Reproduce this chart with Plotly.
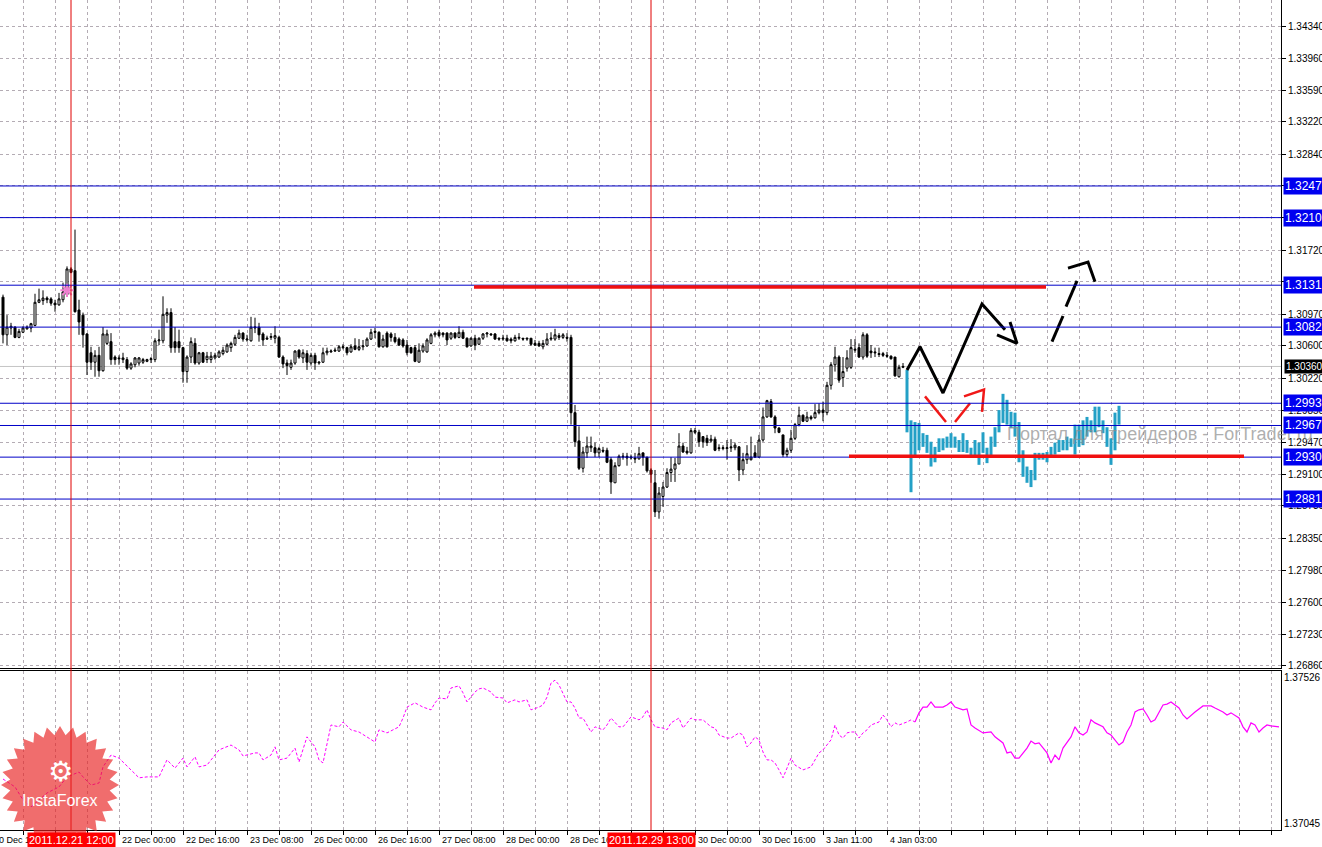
import numpy as np
import plotly.graph_objects as go

# ---------------- data (H1 candles, bar index 0 = first visible bar) ----------------
bar_open = [1.3117,1.3073,1.3081,1.3082,1.3070,1.3076,1.3080,1.3081,1.3084,1.3111,
1.3113,1.3116,1.3115,1.3110,1.3108,1.3114,1.3120,1.3150,1.3148,1.3102,
1.3096,1.3074,1.3052,1.3041,1.3049,1.3031,1.3063,1.3065,1.3047,1.3046,
1.3044,1.3044,1.3034,1.3038,1.3040,1.3041,1.3042,1.3044,1.3044,1.3066,
1.3066,1.3096,1.3099,1.3065,1.3065,1.3058,1.3030,1.3047,1.3063,1.3040,
1.3052,1.3044,1.3044,1.3046,1.3047,1.3051,1.3053,1.3058,1.3062,1.3069,
1.3075,1.3067,1.3066,1.3081,1.3082,1.3074,1.3068,1.3070,1.3069,1.3070,
1.3047,1.3040,1.3035,1.3040,1.3055,1.3046,1.3051,1.3040,1.3049,1.3040,
1.3041,1.3052,1.3053,1.3054,1.3054,1.3058,1.3058,1.3053,1.3060,1.3056,
1.3059,1.3060,1.3068,1.3077,1.3076,1.3059,1.3075,1.3074,1.3070,1.3068,
1.3067,1.3061,1.3058,1.3058,1.3041,1.3054,1.3053,1.3063,1.3073,1.3076,
1.3075,1.3075,1.3069,1.3075,1.3070,1.3076,1.3069,1.3060,1.3069,1.3062,
1.3069,1.3074,1.3074,1.3074,1.3069,1.3068,1.3069,1.3068,1.3066,1.3069,
1.3069,1.3068,1.3069,1.3063,1.3063,1.3059,1.3062,1.3068,1.3068,1.3072,
1.3070,1.3070,1.3070,1.2982,1.2949,1.2917,1.2935,1.2941,1.2941,1.2935,
1.2938,1.2938,1.2927,1.2900,1.2920,1.2930,1.2931,1.2929,1.2929,1.2928,
1.2935,1.2930,1.2915,1.2900,1.2866,1.2884,1.2895,1.2912,1.2916,1.2922,
1.2943,1.2937,1.2935,1.2959,1.2959,1.2954,1.2952,1.2949,1.2951,1.2941,
1.2940,1.2940,1.2942,1.2941,1.2942,1.2915,1.2927,1.2927,1.2935,1.2930,
1.2950,1.2977,1.2995,1.2977,1.2964,1.2956,1.2933,1.2938,1.2952,1.2968,
1.2979,1.2972,1.2977,1.2976,1.2982,1.2985,1.2982,1.3014,1.3038,1.3047,
1.3023,1.3034,1.3035,1.3055,1.3058,1.3047,1.3073,1.3054,1.3053,1.3050,
1.3051,1.3049,1.3048,1.3047,1.3024,1.3035]
bar_high = [1.3120,1.3096,1.3087,1.3083,1.3080,1.3083,1.3084,1.3087,1.3121,1.3127,
1.3125,1.3118,1.3117,1.3114,1.3122,1.3134,1.3153,1.3152,1.3196,1.3114,
1.3099,1.3075,1.3059,1.3055,1.3059,1.3082,1.3079,1.3075,1.3049,1.3049,
1.3052,1.3047,1.3041,1.3047,1.3047,1.3046,1.3045,1.3047,1.3069,1.3079,
1.3118,1.3104,1.3104,1.3082,1.3079,1.3059,1.3049,1.3070,1.3069,1.3053,
1.3053,1.3053,1.3053,1.3052,1.3055,1.3059,1.3063,1.3065,1.3073,1.3079,
1.3076,1.3073,1.3094,1.3093,1.3087,1.3076,1.3072,1.3075,1.3083,1.3072,
1.3049,1.3044,1.3044,1.3055,1.3056,1.3056,1.3055,1.3052,1.3052,1.3042,
1.3058,1.3058,1.3056,1.3058,1.3061,1.3062,1.3059,1.3062,1.3069,1.3068,
1.3067,1.3070,1.3080,1.3081,1.3077,1.3073,1.3077,1.3076,1.3075,1.3070,
1.3069,1.3067,1.3059,1.3061,1.3063,1.3063,1.3069,1.3075,1.3077,1.3079,
1.3076,1.3076,1.3076,1.3076,1.3083,1.3079,1.3070,1.3070,1.3073,1.3070,
1.3075,1.3076,1.3075,1.3075,1.3070,1.3073,1.3073,1.3070,1.3073,1.3075,
1.3069,1.3069,1.3069,1.3067,1.3066,1.3067,1.3075,1.3076,1.3080,1.3075,
1.3075,1.3075,1.3073,1.2991,1.2966,1.2942,1.2954,1.2954,1.2947,1.2942,
1.2942,1.2941,1.2930,1.2924,1.2933,1.2935,1.2935,1.2933,1.2935,1.2942,
1.2935,1.2930,1.2917,1.2915,1.2895,1.2901,1.2917,1.2930,1.2929,1.2958,
1.2947,1.2942,1.2964,1.2964,1.2962,1.2954,1.2956,1.2956,1.2954,1.2945,
1.2944,1.2950,1.2951,1.2947,1.2943,1.2935,1.2944,1.2954,1.2944,1.2956,
1.2988,1.2997,1.2998,1.2979,1.2965,1.2956,1.2941,1.2962,1.2970,1.2989,
1.2980,1.2983,1.2979,1.2992,1.2993,1.2995,1.3018,1.3041,1.3059,1.3049,
1.3047,1.3055,1.3068,1.3068,1.3063,1.3076,1.3075,1.3061,1.3058,1.3058,
1.3053,1.3053,1.3049,1.3047,1.3038,1.3040]
bar_low = [1.3063,1.3061,1.3073,1.3069,1.3069,1.3075,1.3079,1.3076,1.3083,1.3110,
1.3108,1.3110,1.3107,1.3100,1.3107,1.3111,1.3118,1.3145,1.3099,1.3073,
1.3058,1.3026,1.3032,1.3024,1.3024,1.3030,1.3061,1.3038,1.3038,1.3038,
1.3040,1.3032,1.3032,1.3035,1.3037,1.3039,1.3041,1.3040,1.3041,1.3061,
1.3063,1.3087,1.3052,1.3052,1.3052,1.3017,1.3017,1.3040,1.3038,1.3038,
1.3040,1.3040,1.3040,1.3044,1.3046,1.3049,1.3052,1.3053,1.3060,1.3068,
1.3065,1.3065,1.3065,1.3075,1.3065,1.3060,1.3067,1.3067,1.3063,1.3046,
1.3034,1.3026,1.3032,1.3038,1.3045,1.3040,1.3032,1.3037,1.3032,1.3038,
1.3040,1.3049,1.3052,1.3053,1.3053,1.3056,1.3049,1.3052,1.3055,1.3054,
1.3055,1.3059,1.3067,1.3069,1.3058,1.3058,1.3058,1.3065,1.3063,1.3060,
1.3058,1.3049,1.3051,1.3041,1.3041,1.3052,1.3052,1.3062,1.3070,1.3070,
1.3070,1.3061,1.3067,1.3068,1.3069,1.3068,1.3058,1.3059,1.3055,1.3061,
1.3067,1.3070,1.3072,1.3067,1.3066,1.3066,1.3065,1.3063,1.3065,1.3067,
1.3066,1.3066,1.3060,1.3060,1.3059,1.3056,1.3061,1.3066,1.3066,1.3067,
1.3068,1.3065,1.2968,1.2942,1.2915,1.2912,1.2929,1.2936,1.2930,1.2930,
1.2935,1.2923,1.2887,1.2900,1.2919,1.2927,1.2920,1.2927,1.2923,1.2927,
1.2920,1.2912,1.2900,1.2860,1.2858,1.2872,1.2894,1.2901,1.2901,1.2922,
1.2935,1.2933,1.2934,1.2957,1.2942,1.2941,1.2943,1.2947,1.2937,1.2937,
1.2938,1.2927,1.2936,1.2938,1.2902,1.2909,1.2922,1.2926,1.2929,1.2929,
1.2948,1.2976,1.2976,1.2958,1.2958,1.2930,1.2930,1.2935,1.2950,1.2966,
1.2971,1.2971,1.2973,1.2975,1.2980,1.2972,1.2979,1.3009,1.3030,1.3017,
1.3012,1.3030,1.3033,1.3052,1.3046,1.3044,1.3046,1.3046,1.3047,1.3047,
1.3047,1.3046,1.3044,1.3024,1.3023,1.3034]
bar_close = [1.3073,1.3082,1.3083,1.3070,1.3077,1.3081,1.3082,1.3086,1.3111,1.3114,
1.3116,1.3114,1.3110,1.3108,1.3115,1.3123,1.3150,1.3146,1.3100,1.3088,
1.3073,1.3041,1.3041,1.3049,1.3031,1.3074,1.3074,1.3044,1.3044,1.3045,
1.3046,1.3034,1.3039,1.3046,1.3046,1.3044,1.3044,1.3045,1.3066,1.3067,
1.3097,1.3099,1.3058,1.3058,1.3058,1.3030,1.3047,1.3065,1.3040,1.3052,
1.3041,1.3048,1.3048,1.3049,1.3053,1.3055,1.3061,1.3063,1.3070,1.3075,
1.3068,1.3068,1.3082,1.3082,1.3073,1.3067,1.3069,1.3071,1.3072,1.3047,
1.3039,1.3037,1.3040,1.3054,1.3047,1.3052,1.3041,1.3049,1.3040,1.3041,
1.3052,1.3054,1.3054,1.3055,1.3059,1.3059,1.3052,1.3059,1.3056,1.3059,
1.3060,1.3068,1.3076,1.3076,1.3059,1.3068,1.3059,1.3070,1.3065,1.3061,
1.3060,1.3052,1.3052,1.3042,1.3055,1.3060,1.3067,1.3073,1.3075,1.3072,
1.3073,1.3067,1.3075,1.3070,1.3076,1.3069,1.3059,1.3069,1.3061,1.3069,
1.3074,1.3075,1.3073,1.3068,1.3068,1.3069,1.3066,1.3066,1.3070,1.3070,
1.3068,1.3069,1.3062,1.3061,1.3060,1.3063,1.3068,1.3069,1.3073,1.3070,
1.3073,1.3069,1.2982,1.2948,1.2917,1.2936,1.2943,1.2943,1.2935,1.2940,
1.2937,1.2924,1.2901,1.2920,1.2931,1.2931,1.2929,1.2930,1.2928,1.2934,
1.2930,1.2914,1.2910,1.2866,1.2888,1.2895,1.2912,1.2916,1.2922,1.2943,
1.2936,1.2935,1.2961,1.2961,1.2948,1.2948,1.2947,1.2951,1.2938,1.2940,
1.2941,1.2941,1.2941,1.2944,1.2915,1.2927,1.2934,1.2930,1.2930,1.2950,
1.2977,1.2996,1.2977,1.2964,1.2959,1.2933,1.2938,1.2952,1.2968,1.2979,
1.2972,1.2977,1.2975,1.2982,1.2985,1.2982,1.3014,1.3038,1.3047,1.3020,
1.3030,1.3046,1.3058,1.3056,1.3047,1.3073,1.3048,1.3052,1.3052,1.3051,
1.3049,1.3048,1.3045,1.3025,1.3035,1.3036]
bar_idx = list(range(len(bar_open)))

# projected (cyan) high-low bars
proj_start = 226
proj_high = [1.3032,1.2973,1.2971,1.2970,1.2958,1.2956,1.2948,1.2942,1.2952,1.2952,
1.2954,1.2958,1.2954,1.2950,1.2958,1.2950,1.2941,1.2950,1.2947,1.2959,
1.2941,1.2954,1.2965,1.2985,1.3004,1.2997,1.2983,1.2982,1.2971,1.2938,
1.2919,1.2915,1.2935,1.2935,1.2935,1.2936,1.2942,1.2947,1.2950,1.2950,
1.2954,1.2952,1.2968,1.2968,1.2973,1.2977,1.2973,1.2989,1.2989,1.2973,
1.2965,1.2952,1.2982,1.2990]
proj_low = [1.2959,1.2889,1.2929,1.2938,1.2942,1.2935,1.2919,1.2924,1.2936,1.2938,
1.2941,1.2941,1.2941,1.2936,1.2936,1.2935,1.2929,1.2930,1.2921,1.2935,
1.2923,1.2929,1.2942,1.2959,1.2970,1.2968,1.2964,1.2954,1.2924,1.2907,
1.2900,1.2895,1.2903,1.2927,1.2927,1.2924,1.2929,1.2933,1.2936,1.2938,
1.2938,1.2942,1.2933,1.2942,1.2944,1.2954,1.2959,1.2959,1.2965,1.2958,
1.2942,1.2921,1.2938,1.2968]
proj_idx = list(range(proj_start, proj_start + len(proj_high)))

# lower window: comparison line
ind_idx = [0,3,5,7,9,11,14,16,19,20,22,24,25,27,29,30,31,34,36,39,41,43,45,46,48,49,51,53,54,57,
59,60,63,64,65,67,68,69,71,73,74,76,78,79,80,82,84,85,87,89,91,93,94,96,99,100,101,103,105,107,
108,109,111,112,114,115,116,118,119,120,122,123,125,126,128,129,131,132,134,135,136,137,138,139,141,142,143,144,145,146,
147,148,150,151,152,154,155,156,157,159,160,161,162,163,165,166,167,169,170,172,173,175,177,178,179,181,182,184,185,186,
187,188,189,190,191,192,193,194,195,196,197,198,200,202,203,204,205,207,208,209,210,211,212,213,214,215,216,217,219,220,
221,222,223,224,226,227,228,229,230,231,232,233,235,236,237,238,240,241,242,243,245,247,248,250,251,252,253,254,256,257,
258,259,261,262,263,264,265,267,268,269,270,271,272,273,275,276,277,278,279,280,281,282,283,284,285,286,287,288,289,290,
291,292,294,295,296,297,298,300,301,302,303,304,305,306,307,309,310,311,312,313,314,315,316,317,319]
ind_val = [1.37190,1.37164,1.37121,1.37098,1.37121,1.37144,1.37164,1.37197,1.37213,1.37197,1.37170,1.37177,1.37230,1.37269,1.37259,1.37246,1.37230,1.37194,1.37197,1.37197,
1.37253,1.37226,1.37259,1.37230,1.37263,1.37230,1.37236,1.37269,1.37286,1.37302,
1.37286,1.37266,1.37276,1.37276,1.37253,1.37269,1.37296,1.37253,1.37259,1.37292,1.37246,1.37329,1.37296,1.37253,1.37243,1.37368,1.37362,1.37378,1.37352,1.37345,
1.37329,1.37312,1.37352,1.37342,1.37362,1.37391,1.37427,1.37441,1.37427,1.37418,
1.37441,1.37457,1.37454,1.37490,1.37497,1.37474,1.37444,1.37477,1.37487,1.37490,1.37477,1.37460,1.37457,1.37441,1.37451,1.37444,1.37451,1.37418,1.37427,1.37434,
1.37460,1.37506,1.37516,1.37500,1.37444,1.37444,1.37424,1.37391,1.37391,1.37368,
1.37345,1.37362,1.37352,1.37368,1.37391,1.37362,1.37362,1.37378,1.37395,1.37385,1.37395,1.37418,1.37385,1.37362,1.37358,1.37352,1.37375,1.37391,1.37358,1.37391,
1.37385,1.37385,1.37362,1.37358,1.37335,1.37325,1.37325,1.37342,1.37335,1.37296,
1.37309,1.37329,1.37319,1.37279,1.37253,1.37253,1.37243,1.37220,1.37194,1.37226,1.37259,1.37236,1.37220,1.37230,1.37253,1.37276,1.37286,1.37319,1.37368,1.37335,
1.37325,1.37342,1.37345,1.37345,1.37325,1.37342,1.37352,1.37368,1.37378,1.37401,
1.37385,1.37362,1.37375,1.37368,1.37378,1.37385,1.37378,1.37408,1.37427,1.37427,1.37444,1.37427,1.37427,1.37434,1.37444,1.37427,1.37418,1.37421,1.37368,1.37358,
1.37342,1.37345,1.37329,1.37309,1.37276,1.37279,1.37259,1.37259,1.37292,1.37315,
1.37306,1.37309,1.37276,1.37243,1.37269,1.37253,1.37292,1.37329,1.37362,1.37342,1.37335,1.37345,1.37385,1.37375,1.37362,1.37342,1.37335,1.37319,1.37302,1.37312,
1.37345,1.37368,1.37411,1.37418,1.37421,1.37401,1.37378,1.37385,1.37411,1.37434,
1.37437,1.37444,1.37424,1.37401,1.37388,1.37401,1.37411,1.37431,1.37431,1.37431,1.37424,1.37418,1.37411,1.37401,1.37408,1.37391,1.37362,1.37345,1.37375,1.37368,
1.37345,1.37358,1.37368,1.37365,1.37362]
ind_solid_from = 228

# axis ticks
price_ticks = [1.34340,1.33960,1.33590,1.33220,1.32840,1.32470,1.32100,1.31720,1.31350,1.30970,
               1.30600,1.30220,1.29850,1.29470,1.29100,1.28730,1.28350,1.27980,1.27600,1.27230,1.26860]
ind_ticks = [1.37526, 1.37045]
time_tick_idx = [-3, 13, 29, 45, 61, 77, 93, 109, 125, 141, 157, 173, 189, 205, 221]
time_tick_text = ["20 Dec 16:00", "21 Dec 08:00", "22 Dec 00:00", "22 Dec 16:00", "23 Dec 08:00",
                  "26 Dec 00:00", "26 Dec 16:00", "27 Dec 08:00", "28 Dec 00:00", "28 Dec 16:00",
                  "29 Dec 08:00", "30 Dec 00:00", "30 Dec 16:00", "3 Jan 11:00", "4 Jan 03:00"]
grid_idx = list(range(5, 320, 8))

# chart objects
level_prices = [1.3247, 1.3210, 1.3131, 1.3082, 1.2993, 1.2967, 1.2930, 1.2881]
bid_price = 1.3036
vline_idx = [17, 162]
vline_text = ["2011.12.21 12:00", "2011.12.29 13:00"]
hline_price = [1.3129, 1.2931]
hline_from = [117.75, 211.5]
hline_to = [260.75, 310.25]
arrow_mark_idx = [16]
arrow_mark_price = [1.3125]
zig_x = [226, 229.25, 235, 244.75, 250.5]
zig_y = [1.3032, 1.3059, 1.3005, 1.3109, 1.3079]
zig_head_x = [248.5, 253.5, 251.75]
zig_head_y = [1.3073, 1.3063, 1.3088]
up_x = [262.25, 265, None, 265.75, 268.5]
up_y = [1.3065, 1.3095, None, 1.3106, 1.3136]
up_head_x = [266.25, 271.25, 273]
up_head_y = [1.3151, 1.3158, 1.3135]
red_x = [230.5, 235.75, None, 238, 241.75]
red_y = [1.3001, 1.2971, None, 1.2971, 1.2993]
red_head_x = [240.25, 245.25, 244.75]
red_head_y = [1.3001, 1.3009, 1.2983]

# ---------------- figure ----------------
W, H = 1322, 847
ML, MR, MT, MB = 0, 41, 0, 17
PW, PH = W - ML - MR, H - MT - MB
XR = [-0.75, 319.5]
FONT = "Liberation Sans, Arial, sans-serif"
GRID = "#B4ACB4"

fig = go.Figure()
fig.add_trace(go.Candlestick(
    x=bar_idx, open=bar_open, high=bar_high, low=bar_low, close=bar_close,
    increasing=dict(line=dict(color="black", width=1), fillcolor="white"),
    decreasing=dict(line=dict(color="black", width=1), fillcolor="black"),
    whiskerwidth=0, hoverinfo="skip", xaxis="x", yaxis="y"))
fig.add_trace(go.Bar(
    x=proj_idx, y=[h - l for h, l in zip(proj_high, proj_low)], base=proj_low,
    width=0.75, marker=dict(color="#23A0C6", line=dict(width=0)),
    hoverinfo="skip", xaxis="x", yaxis="y"))
fig.add_trace(go.Scatter(x=arrow_mark_idx, y=arrow_mark_price, mode="markers",
    marker=dict(symbol="asterisk-open", size=11, color="#EE7FCF", line=dict(color="#EE7FCF", width=2)),
    hoverinfo="skip"))
for xs, ys, col, wd in [
        (zig_x, zig_y, "black", 3), (zig_head_x, zig_head_y, "black", 3),
        (up_x, up_y, "black", 3), (up_head_x, up_head_y, "black", 3),
        (red_x, red_y, "#F01818", 2.5), (red_head_x, red_head_y, "#F01818", 2.5)]:
    fig.add_trace(go.Scatter(x=xs, y=ys, mode="lines", line=dict(color=col, width=wd),
                             hoverinfo="skip", connectgaps=False))

dot_x = [i for i in ind_idx if i <= ind_solid_from]
dot_y = [v for i, v in zip(ind_idx, ind_val) if i <= ind_solid_from]
sol_x = [i for i in ind_idx if i >= ind_solid_from]
sol_y = [v for i, v in zip(ind_idx, ind_val) if i >= ind_solid_from]
fig.add_trace(go.Scatter(x=dot_x, y=dot_y, mode="lines", line=dict(color="#FF00FF", width=1, dash="3px,2px"),
                         xaxis="x2", yaxis="y2", hoverinfo="skip"))
fig.add_trace(go.Scatter(x=sol_x, y=sol_y, mode="lines", line=dict(color="#FF00FF", width=1.2),
                         xaxis="x2", yaxis="y2", hoverinfo="skip"))

shapes = []
shapes.append(dict(type="line", xref="paper", x0=0, x1=1, yref="y", y0=bid_price, y1=bid_price,
                   line=dict(color="#C4C4C4", width=1), layer="below"))
for p in level_prices:
    shapes.append(dict(type="line", xref="paper", x0=0, x1=1, yref="y", y0=p, y1=p,
                       line=dict(color="#0000C8", width=1), layer="above"))
for p, a, b in zip(hline_price, hline_from, hline_to):
    shapes.append(dict(type="line", xref="x", x0=a, x1=b, yref="y", y0=p, y1=p,
                       line=dict(color="#F01010", width=3.5), layer="above"))
for vx in vline_idx:
    shapes.append(dict(type="line", xref="x", x0=vx, x1=vx, yref="paper", y0=0, y1=1,
                       line=dict(color="#E00000", width=1), layer="above"))

# InstaForex badge (decoration)
cx, cy, R1, R2, n = 60, 785, 59, 50, 28
pts = []
for k in range(2 * n):
    a = np.pi * k / n - np.pi / 2
    r = R1 if k % 2 == 0 else R2
    px, py = cx + r * np.cos(a), cy + r * np.sin(a)
    pts.append(((px - ML) / PW, (MT + PH - py) / PH))
path = "M " + " L ".join(f"{x:.5f},{y:.5f}" for x, y in pts) + " Z"
shapes.append(dict(type="path", xref="paper", yref="paper", path=path,
                   fillcolor="rgba(232,30,30,0.65)", line=dict(width=0), layer="above"))

ann = []
# watermark
ann.append(dict(xref="paper", x=1005 / PW, yref="y", y=1.2957, xanchor="left", yanchor="middle",
                text="Портал для трейдеров - ForTrader.ru", showarrow=False,
                font=dict(family=FONT, size=18, color="rgba(140,140,140,0.7)")))
# time labels
for ti, tt in zip(time_tick_idx, time_tick_text):
    if XR[0] <= ti <= XR[1]:
        ann.append(dict(xref="x2", x=ti, yref="paper", y=-9.5 / PH, xanchor="left", yanchor="middle",
                        text=tt, showarrow=False, xshift=1, font=dict(family=FONT, size=9, color="black")))
    else:
        ann.append(dict(xref="paper", x=(ti - XR[0]) / (XR[1] - XR[0]), yref="paper", y=-9.5 / PH,
                        xanchor="left", yanchor="middle", text=tt, showarrow=False, xshift=1,
                        font=dict(family=FONT, size=9, color="black")))
for vx, vt in zip(vline_idx, vline_text):
    ann.append(dict(xref="x2", x=vx, yref="paper", y=-9.5 / PH, xanchor="center", yanchor="middle",
                    text=vt, showarrow=False, bgcolor="#FF0000", borderpad=1,
                    font=dict(family=FONT, size=11, color="white")))
# price boxes
for p in level_prices:
    ann.append(dict(xref="paper", x=1 + 2 / PW, yref="y", y=p, xanchor="left", yanchor="middle",
                    text=f"{p:.4f}", showarrow=False, bgcolor="#0000F0", borderpad=1,
                    font=dict(family=FONT, size=12, color="white")))
ann.append(dict(xref="paper", x=1 + 3 / PW, yref="y", y=bid_price, xanchor="left", yanchor="middle",
                text=f"{bid_price:.5f}", showarrow=False, bgcolor="black", borderpad=1,
                font=dict(family=FONT, size=10, color="white")))
# badge text
ann.append(dict(xref="paper", x=cx / PW, yref="paper", y=(PH - 771) / PH, text="⚙", showarrow=False,
                xanchor="center", yanchor="middle",
                font=dict(family="DejaVu Sans", size=28, color="white")))
ann.append(dict(xref="paper", x=cx / PW, yref="paper", y=(PH - 800) / PH, text="InstaForex", showarrow=False,
                xanchor="center", yanchor="middle",
                font=dict(family=FONT, size=16, color="white")))

fig.update_layout(
    width=W, height=H, template="none",
    margin=dict(l=ML, r=MR, t=MT, b=MB, pad=0),
    paper_bgcolor="white", plot_bgcolor="white",
    showlegend=False, hovermode=False,
    font=dict(family=FONT, size=10, color="black"),
    boxgap=0.5, boxgroupgap=0,
    xaxis=dict(domain=[0, 1], range=XR, anchor="y", tickmode="array", tickvals=grid_idx,
               showticklabels=False, ticks="", showgrid=True, gridcolor=GRID, griddash="3px,3px",
               gridwidth=1, showline=True, linecolor="black", linewidth=1, zeroline=False,
               rangeslider=dict(visible=False), automargin=False, fixedrange=True),
    xaxis2=dict(domain=[0, 1], range=XR, anchor="y2", tickmode="array", tickvals=grid_idx,
                showticklabels=False, ticks="outside", ticklen=4, tickcolor="black",
                showgrid=True, gridcolor=GRID, griddash="3px,3px", gridwidth=1,
                showline=True, mirror=True, linecolor="black", linewidth=1, zeroline=False,
                automargin=False),
    yaxis=dict(domain=[(PH - 668) / PH, 1], range=[1.26835, 1.34644], anchor="x", side="right",
               tickmode="array", tickvals=price_ticks, ticktext=[f"{v:.5f}" for v in price_ticks],
               ticks="outside", ticklen=4, tickcolor="black", tickfont=dict(family=FONT, size=10),
               showgrid=True, gridcolor=GRID, griddash="3px,3px", gridwidth=1,
               showline=True, linecolor="black", linewidth=1, zeroline=False, automargin=False),
    yaxis2=dict(domain=[0, (PH - 671) / PH], range=[1.37022, 1.37546], anchor="x2", side="right",
                tickmode="array", tickvals=ind_ticks, ticktext=[f"{v:.5f}" for v in ind_ticks],
                ticks="", tickfont=dict(family=FONT, size=10),
                showgrid=False, showline=True, linecolor="black", linewidth=1, zeroline=False,
                automargin=False),
    shapes=shapes, annotations=ann,
)
fig.write_html("out.html", config={"displayModeBar": False},
               post_script="document.body.style.margin='0';document.body.style.overflow='hidden';")
